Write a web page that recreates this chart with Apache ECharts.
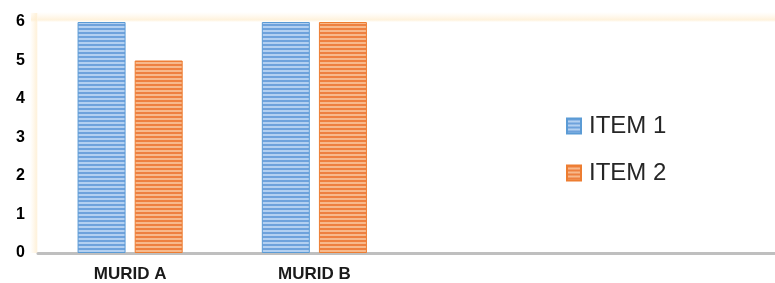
<!DOCTYPE html>
<html>
<head>
<meta charset="utf-8">
<script src="https://cdn.jsdelivr.net/npm/echarts@6/dist/echarts.min.js"></script>
<style>html,body{margin:0;padding:0;background:#fff;}#c{width:775px;height:283px;}</style>
</head>
<body>
<div id="c"></div>
<script>
const categories = ['MURID A', 'MURID B', '', ''];
const item1 = [6, 6, '-', '-'];
const item2 = [5, 6, '-', '-'];
const seriesNames = ['ITEM 1', 'ITEM 2'];
const yTicks = [0, 1, 2, 3, 4, 5, 6];

function stripes(dark, light) {
  const c = document.createElement('canvas');
  c.width = 4; c.height = 4;
  const g = c.getContext('2d');
  g.fillStyle = light; g.fillRect(0, 0, 4, 4);
  g.fillStyle = dark; g.fillRect(0, 0, 4, 2);
  return c;
}
const bluePat = { image: stripes('#6ea2dc', '#b3d0f1'), repeat: 'repeat' };
const orangePat = { image: stripes('#ee8040', '#f7b98c'), repeat: 'repeat' };

const glow = (x2, y2) => new echarts.graphic.LinearGradient(0, 0, x2, y2, [
  { offset: 0, color: 'rgba(255,240,214,0)' },
  { offset: 0.8, color: 'rgba(254,236,204,0.7)' },
  { offset: 1, color: 'rgba(255,250,240,0.3)' }]);

const chart = echarts.init(document.getElementById('c'), null, { renderer: 'canvas' });
chart.setOption({
  animation: false,
  backgroundColor: '#fff',
  grid: { left: 38, right: 0, top: 22, bottom: 29 },
  graphic: [
    { type: 'rect', shape: { x: 31, y: 12, width: 744, height: 10 }, silent: true, z: -1,
      style: { fill: glow(0, 1) } },
    { type: 'rect', shape: { x: 30, y: 13, width: 8, height: 240 }, silent: true, z: -1,
      style: { fill: glow(1, 0) } }
  ],
  legend: {
    orient: 'vertical', left: 561, top: 109, itemGap: 23,
    itemWidth: 14, itemHeight: 15, icon: 'rect',
    data: seriesNames,
    textStyle: { fontFamily: 'Liberation Sans, Arial', fontSize: 24, color: '#262626', padding: [0, 0, 0, 3] }
  },
  xAxis: {
    type: 'category', data: categories,
    axisLine: { lineStyle: { color: '#bfbfbf', width: 3 } },
    axisTick: { show: false },
    axisLabel: { margin: 13, fontFamily: 'Liberation Sans, Arial', fontWeight: 'bold', fontSize: 17, color: '#1a1a1a' }
  },
  yAxis: {
    type: 'value', min: 0, max: 6, interval: 1,
    axisLine: { show: false }, axisTick: { show: false }, splitLine: { show: false },
    axisLabel: { margin: 13, fontFamily: 'Liberation Sans, Arial', fontWeight: 'bold', fontSize: 16, color: '#000',
      formatter: v => yTicks.includes(v) ? String(v) : '' }
  },
  series: [
    { name: seriesNames[0], type: 'bar', data: item1, barWidth: 48, barGap: '19%',
      itemStyle: { color: bluePat, borderColor: '#5b9bd5', borderWidth: 1 } },
    { name: seriesNames[1], type: 'bar', data: item2, barWidth: 48,
      itemStyle: { color: orangePat, borderColor: '#ed7d31', borderWidth: 1 } }
  ]
});
</script>
</body>
</html>
